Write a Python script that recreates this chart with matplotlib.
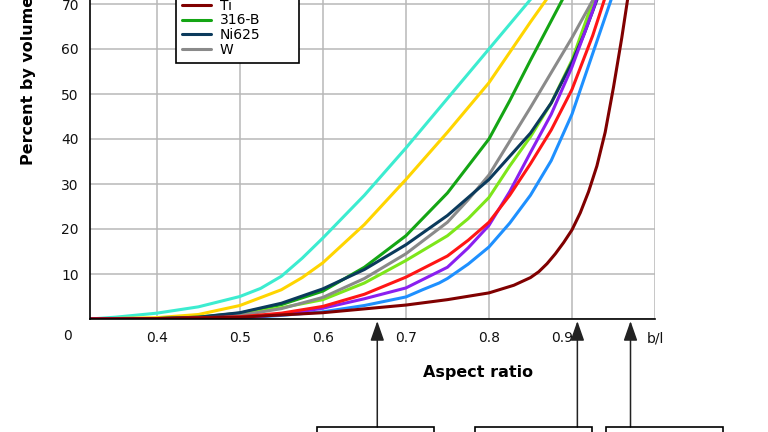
import matplotlib
matplotlib.use("Agg")
import matplotlib.pyplot as plt
from matplotlib.patches import Rectangle
from matplotlib.transforms import ScaledTranslation

plt.rcParams['font.family'] = ['DejaVu Sans']

# aspect ratio (x) / percent by volume (y) for each curve
x_cyan = [0.3195, 0.35, 0.4, 0.45, 0.5, 0.525, 0.55, 0.575, 0.6, 0.65, 0.7, 0.75, 0.8, 0.85, 0.9]
y_cyan = [0, 0.4, 1.3, 2.7, 5.0, 6.8, 9.5, 13.5, 18, 27.5, 38, 49, 60, 71, 82]

x_yellow = [0.3195, 0.4, 0.45, 0.5, 0.55, 0.575, 0.6, 0.65, 0.7, 0.75, 0.8, 0.85, 0.9]
y_yellow = [0, 0.3, 1.0, 3.0, 6.5, 9.2, 12.5, 21, 31, 41.5, 52.5, 66, 79]

x_316b = [0.3195, 0.4, 0.45, 0.5, 0.55, 0.6, 0.65, 0.7, 0.75, 0.8, 0.825, 0.85, 0.9]
y_316b = [0, 0.1, 0.4, 1.3, 3.2, 6.2, 11.5, 18.5, 28, 40, 48.5, 57.5, 75]

x_lime = [0.3195, 0.4, 0.45, 0.5, 0.55, 0.6, 0.65, 0.7, 0.75, 0.775, 0.8, 0.825, 0.85, 0.875, 0.9, 0.925, 0.94]
y_lime = [0, 0.05, 0.3, 1.0, 2.5, 4.3, 8, 13, 18.5, 22.3, 27, 34, 40.5, 48, 57.5, 70.5, 79]

x_w = [0.3195, 0.4, 0.45, 0.5, 0.55, 0.6, 0.65, 0.7, 0.75, 0.775, 0.8, 0.825, 0.85, 0.9, 0.93]
y_w = [0, 0.05, 0.3, 0.8, 2.3, 4.8, 9, 14.5, 21.5, 26.5, 32, 39.5, 47, 62.5, 72.5]

x_ni625 = [0.3195, 0.4, 0.45, 0.5, 0.55, 0.6, 0.65, 0.7, 0.75, 0.8, 0.85, 0.875, 0.9, 0.915, 0.93, 0.94]
y_ni625 = [0, 0.1, 0.4, 1.4, 3.5, 6.7, 11, 16.5, 23, 31, 41.3, 48, 57, 63.5, 70.9, 77]

x_blue = [0.3195, 0.4, 0.5, 0.55, 0.6, 0.65, 0.7, 0.72, 0.74, 0.75, 0.775, 0.8, 0.825, 0.85, 0.875, 0.9, 0.925, 0.95, 0.96]
y_blue = [0, 0.02, 0.2, 0.8, 1.6, 3.0, 4.9, 6.5, 8.0, 9.0, 12.2, 16, 21.3, 27.5, 35.2, 45.5, 59, 72.5, 79]

x_purple = [0.3195, 0.4, 0.5, 0.55, 0.6, 0.65, 0.7, 0.75, 0.775, 0.8, 0.825, 0.85, 0.875, 0.9, 0.925, 0.94]
y_purple = [0, 0.03, 0.3, 1.0, 2.4, 4.5, 6.9, 11.5, 15.8, 20.8, 28.3, 37.0, 45.5, 56, 68.5, 77]

x_red = [0.3195, 0.4, 0.5, 0.55, 0.6, 0.65, 0.7, 0.75, 0.775, 0.8, 0.825, 0.85, 0.875, 0.9, 0.925, 0.94, 0.955]
y_red = [0, 0.05, 0.5, 1.3, 2.8, 5.5, 9.3, 14, 17.5, 21.5, 27.5, 34.5, 42, 51, 63, 71.5, 80]

x_ti = [0.3195, 0.4, 0.5, 0.6, 0.7, 0.75, 0.8, 0.83, 0.85, 0.86, 0.87, 0.88, 0.89, 0.9, 0.91, 0.92, 0.93, 0.94, 0.95, 0.96, 0.967, 0.972]
y_ti = [0, 0.1, 0.4, 1.4, 3.1, 4.3, 5.8, 7.5, 9.2, 10.5, 12.3, 14.5, 17, 19.8, 23.6, 28.3, 34, 41.5, 51.5, 62.5, 71, 80]

xtick_vals = [0.4, 0.5, 0.6, 0.7, 0.8, 0.9, 1.0]
xtick_labels = ['0.4', '0.5', '0.6', '0.7', '0.8', '0.9', 'b/l']
ytick_vals = [0, 10, 20, 30, 40, 50, 60, 70, 80, 90]
ytick_labels = ['', '10', '20', '30', '40', '50', '60', '70', '80', '90']

arrow_x = [0.6655, 0.9065, 0.9705]   # aspect ratios pointed at from the boxes below

fig = plt.figure(figsize=(7.68, 4.32), dpi=100)
ax = fig.add_axes([90/768, 113/432, 565/768, 405/432])

kw = dict(lw=2.2, solid_joinstyle='round', solid_capstyle='round')
ax.plot(x_cyan, y_cyan, color='#3cecd0', **kw)
ax.plot(x_yellow, y_yellow, color='#ffd500', **kw)
ax.plot(x_316b, y_316b, color='#14a514', label='316-B', **kw)
ax.plot(x_lime, y_lime, color='#7de61a', **kw)
ax.plot(x_w, y_w, color='#8a8a8a', label='W', **kw)
ax.plot(x_ni625, y_ni625, color='#0b3a5c', label='Ni625', **kw)
ax.plot(x_blue, y_blue, color='#1e90ff', **kw)
ax.plot(x_purple, y_purple, color='#8a1ff0', **kw)
ax.plot(x_red, y_red, color='#ff1515', **kw)
ax.plot(x_ti, y_ti, color='#800000', label='Ti', **kw)

ax.set_xlim(0.3195, 1.0)
ax.set_ylim(0, 90)
ax.set_xticks(xtick_vals)
ax.set_xticklabels(xtick_labels)
ax.set_yticks(ytick_vals)
ax.set_yticklabels(ytick_labels)
ax.tick_params(axis='both', length=0, labelsize=10, colors='#111111')
ax.tick_params(axis='x', pad=9)
ax.tick_params(axis='y', pad=8)
ax.grid(True, color='#b8b8b8', lw=1.1)
ax.set_axisbelow(True)
for side in ['top', 'right']:
    ax.spines[side].set_visible(False)
for side in ['left', 'bottom']:
    ax.spines[side].set_linewidth(1.2)
    ax.spines[side].set_color('black')
    ax.spines[side].set_zorder(5)

# the 0.9 label sits a bit left of its gridline
lab = ax.get_xticklabels()[5]
lab.set_transform(lab.get_transform() + ScaledTranslation(-10/100, 0, fig.dpi_scale_trans))

ax.annotate('0', xy=(0, 0), xycoords='axes fraction', xytext=(-23, -17),
            textcoords='offset pixels', ha='center', va='center', fontsize=10, color='#111111')

fig.text(478/768, 1 - 372/432, 'Aspect ratio', ha='center', va='center',
         fontsize=11.5, fontweight='bold')
fig.text(29/768, 1 - 165/432, 'Percent by volume', rotation=90, ha='center', va='bottom',
         fontsize=11.5, fontweight='bold')

h, l = ax.get_legend_handles_labels()
order = ['Ti', '316-B', 'Ni625', 'W']
hd = dict(zip(l, h))
leg = ax.legend([hd[k] for k in order], order, loc='lower left',
                bbox_to_anchor=(176/768, 1 - 63/432, 123/768, 0.2),
                bbox_transform=fig.transFigure, mode='expand', borderaxespad=0,
                fontsize=10, labelspacing=0.05, handlelength=2.1, handletextpad=0.6,
                borderpad=0.45, fancybox=False, framealpha=1)
leg.get_frame().set_edgecolor('black')
leg.get_frame().set_linewidth(1.2)

# boxes below the chart
for x0, x1 in [(317, 434), (475, 592), (606, 723)]:
    fig.add_artist(Rectangle((x0/768, -0.05), (x1 - x0)/768, 0.05 + 5/432,
                             transform=fig.transFigure, fill=False,
                             edgecolor='black', lw=1.2))

for xv in arrow_x:
    ax.annotate('', xy=(xv, -0.005), xycoords=('data', 'axes fraction'),
                xytext=(xv, 5/432), textcoords=('data', 'figure fraction'),
                arrowprops=dict(arrowstyle='-|>,head_length=1.2,head_width=0.42',
                                mutation_scale=10, color='#222222', lw=1.1,
                                shrinkA=0, shrinkB=0))

fig.savefig('out.png', dpi=100)
